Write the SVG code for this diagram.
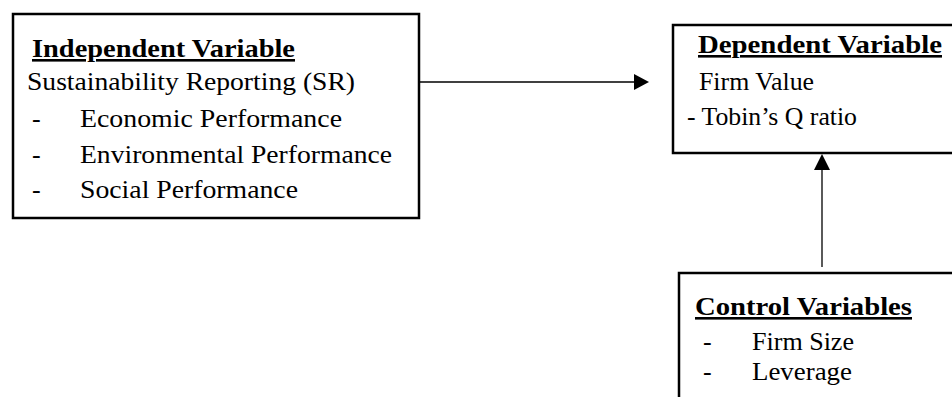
<svg xmlns="http://www.w3.org/2000/svg" width="952" height="397" viewBox="0 0 952 397">
<style>
  .box { fill: #ffffff; stroke: #000000; stroke-width: 2.5; }
  .t { font-family: "Liberation Serif", "Times New Roman", serif; font-size: 26px; fill: #000000; }
  .h { font-family: "Liberation Serif", "Times New Roman", serif; font-size: 26px; font-weight: bold; fill: #000000; text-decoration: underline; }
  .edge { stroke: #000000; stroke-width: 1.3; fill: none; }
  .head { fill: #000000; stroke: none; }
</style>
<rect x="0" y="0" width="952" height="397" fill="#ffffff"/>
<g id="independent">
  <rect class="box" x="13" y="14" width="406" height="204"/>
  <text class="h" x="32" y="57" textLength="263" lengthAdjust="spacingAndGlyphs">Independent Variable</text>
  <text class="t" x="27" y="90" textLength="328" lengthAdjust="spacingAndGlyphs">Sustainability Reporting (SR)</text>
  <text class="t" x="32" y="127">-</text>
  <text class="t" x="80" y="127" textLength="262" lengthAdjust="spacingAndGlyphs">Economic Performance</text>
  <text class="t" x="32" y="163">-</text>
  <text class="t" x="80" y="163" textLength="312" lengthAdjust="spacingAndGlyphs">Environmental Performance</text>
  <text class="t" x="32" y="198">-</text>
  <text class="t" x="80" y="198" textLength="218" lengthAdjust="spacingAndGlyphs">Social Performance</text>
</g>
<g id="dependent">
  <rect class="box" x="673" y="25" width="290" height="128"/>
  <text class="h" x="698" y="53" textLength="244" lengthAdjust="spacingAndGlyphs">Dependent Variable</text>
  <text class="t" x="699" y="90" textLength="115" lengthAdjust="spacingAndGlyphs">Firm Value</text>
  <text class="t" x="687" y="125" textLength="170" lengthAdjust="spacingAndGlyphs">- Tobin’s Q ratio</text>
</g>
<g id="control">
  <rect class="box" x="679" y="273" width="290" height="140"/>
  <text class="h" x="695" y="315" textLength="217" lengthAdjust="spacingAndGlyphs">Control Variables</text>
  <text class="t" x="703" y="350">-</text>
  <text class="t" x="752" y="350" textLength="102" lengthAdjust="spacingAndGlyphs">Firm Size</text>
  <text class="t" x="703" y="380">-</text>
  <text class="t" x="752" y="380" textLength="100" lengthAdjust="spacingAndGlyphs">Leverage</text>
</g>
<g id="connectors">
  <line class="edge" x1="420" y1="82" x2="635" y2="82"/>
  <polygon class="head" points="634,74 649,82 634,90"/>
  <line class="edge" x1="822" y1="267" x2="822" y2="169"/>
  <polygon class="head" points="814,170 822,154 830,170"/>
</g>
</svg>
